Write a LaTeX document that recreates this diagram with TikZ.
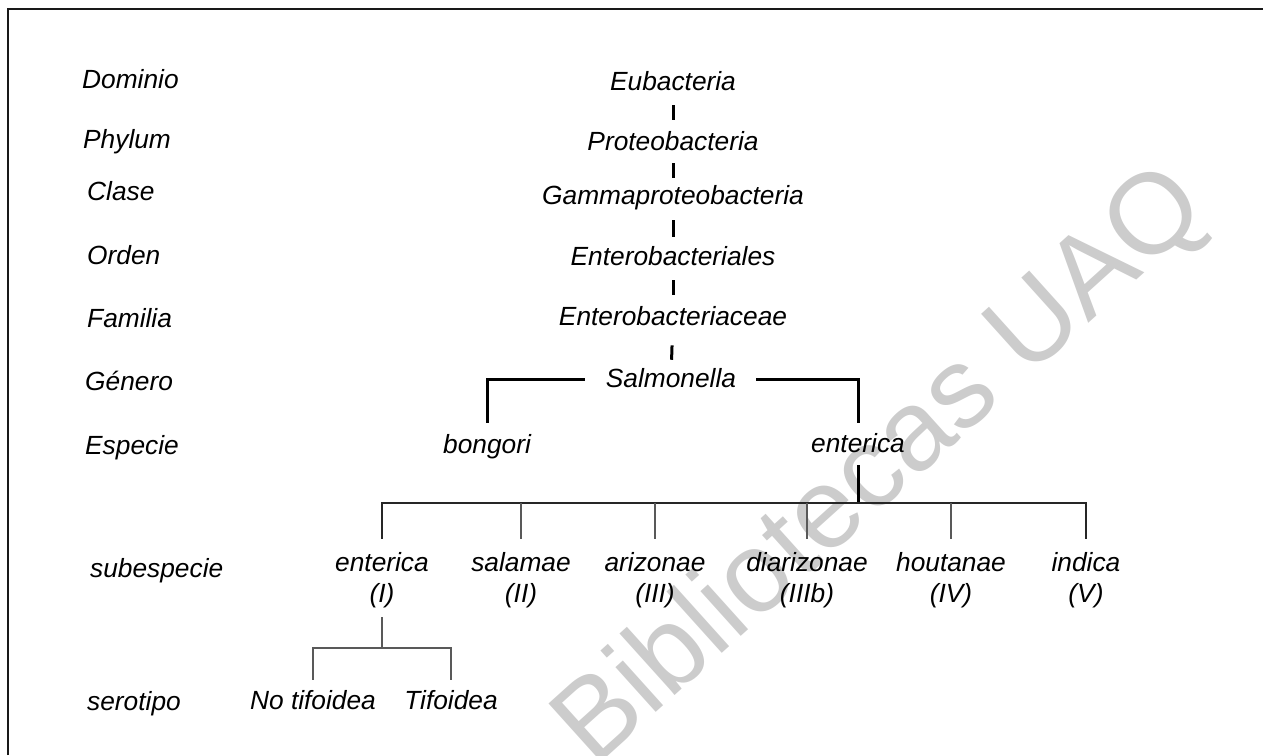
\documentclass[tikz,border=0pt]{standalone}
\usepackage{fontspec}
\setmainfont{Liberation Sans}
\begin{document}
\begin{tikzpicture}[x=1pt,y=-1pt,
  lbl/.style={font=\fontsize{26.3}{33}\selectfont\itshape, inner sep=0pt, anchor=base},
  rank/.style={lbl, anchor=base west},
  heavy/.style={line width=3pt, draw=black},
  mid/.style={line width=2.2pt, draw=black!85},
  fine/.style={line width=1.4pt, draw=black!65},
  wm/.style={font=\fontsize{114}{114}\selectfont, text=black!20, inner sep=0pt}]
\useasboundingbox (0,0) rectangle (1263,755);
% watermark
\node[wm, rotate=42] (wmk) at (882,468) {Bibliotecas UAQ};
% frame
\coordinate (fbl) at (8,755);
\coordinate (ftl) at (8,9);
\coordinate (ftr) at (1263,9);
\draw[line width=2pt, black!90] (fbl) -- (ftl) -- (ftr);
% rank labels
\node[rank] (rdom) at (82,88) {Dominio};
\node[rank] (rphy) at (83,148) {Phylum};
\node[rank] (rcla) at (87,200) {Clase};
\node[rank] (rord) at (87,264) {Orden};
\node[rank] (rfam) at (87,327) {Familia};
\node[rank] (rgen) at (85,390) {Género};
\node[rank] (resp) at (85,454) {Especie};
\node[rank] (rsub) at (90,577) {subespecie};
\node[rank] (rser) at (87,710) {serotipo};
% main column
\node[lbl] (eub) at (673,90) {Eubacteria};
\node[lbl] (prot) at (673,150) {Proteobacteria};
\node[lbl] (gam) at (673,204) {Gammaproteobacteria};
\node[lbl] (ental) at (673,265) {Enterobacteriales};
\node[lbl] (encea) at (673,325) {Enterobacteriaceae};
\node[lbl] (sal) at (671,387) {Salmonella};
\draw[heavy, shorten <=15pt, shorten >=11pt] (eub) -- (prot);
\draw[heavy, shorten <=13pt, shorten >=7pt] (prot) -- (gam);
\draw[heavy, shorten <=10.5pt, shorten >=9pt] (gam) -- (ental);
\draw[heavy, shorten <=15pt, shorten >=11pt] (ental) -- (encea);
\draw[heavy, shorten <=20pt, shorten >=8pt] (encea) -- (sal);
% species
\node[lbl] (bong) at (487,453) {bongori};
\node[lbl] (ent) at (858,452) {enterica};
\draw[heavy, shorten <=21pt, shorten >=11pt] ([yshift=-1.4pt]sal.west) -| (bong.north);
\draw[heavy, shorten <=20pt, shorten >=10pt] ([yshift=-1.4pt]sal.east) -| (ent.north);
% subspecies
\coordinate (hub) at (858,503);
\node[lbl] (s1) at (382,571) {enterica};
\node[lbl] (s1n) at (382,602) {(I)};
\node[lbl] (s2) at (521,571) {salamae};
\node[lbl] (s2n) at (521,602) {(II)};
\node[lbl] (s3) at (655,571) {arizonae};
\node[lbl] (s3n) at (655,602) {(III)};
\node[lbl] (s4) at (807,571) {diarizonae};
\node[lbl] (s4n) at (807,602) {(IIIb)};
\node[lbl] (s5) at (951,571) {houtanae};
\node[lbl] (s5n) at (951,602) {(IV)};
\node[lbl] (s6) at (1086,571) {indica};
\node[lbl] (s6n) at (1086,602) {(V)};
\draw[heavy, shorten <=13pt] (ent) -- (hub);
\draw[mid, shorten <=13pt, shorten >=13pt] (s1.north) |- (hub) -| (s6.north);
\draw[fine, shorten >=13pt] (s2.north |- hub) -- (s2.north);
\draw[fine, shorten >=13pt] (s3.north |- hub) -- (s3.north);
\draw[fine, shorten >=13pt] (s4.north |- hub) -- (s4.north);
\draw[fine, shorten >=13pt] (s5.north |- hub) -- (s5.north);
% serotypes
\coordinate (sh) at (382,648);
\node[lbl] (nt) at (313,709) {No tifoidea};
\node[lbl] (tf) at (451,709) {Tifoidea};
\draw[fine, shorten <=9.5pt] (s1n) -- (sh);
\draw[fine, shorten <=10pt, shorten >=10pt] (nt.north) |- (sh) -| (tf.north);
\end{tikzpicture}
\end{document}
